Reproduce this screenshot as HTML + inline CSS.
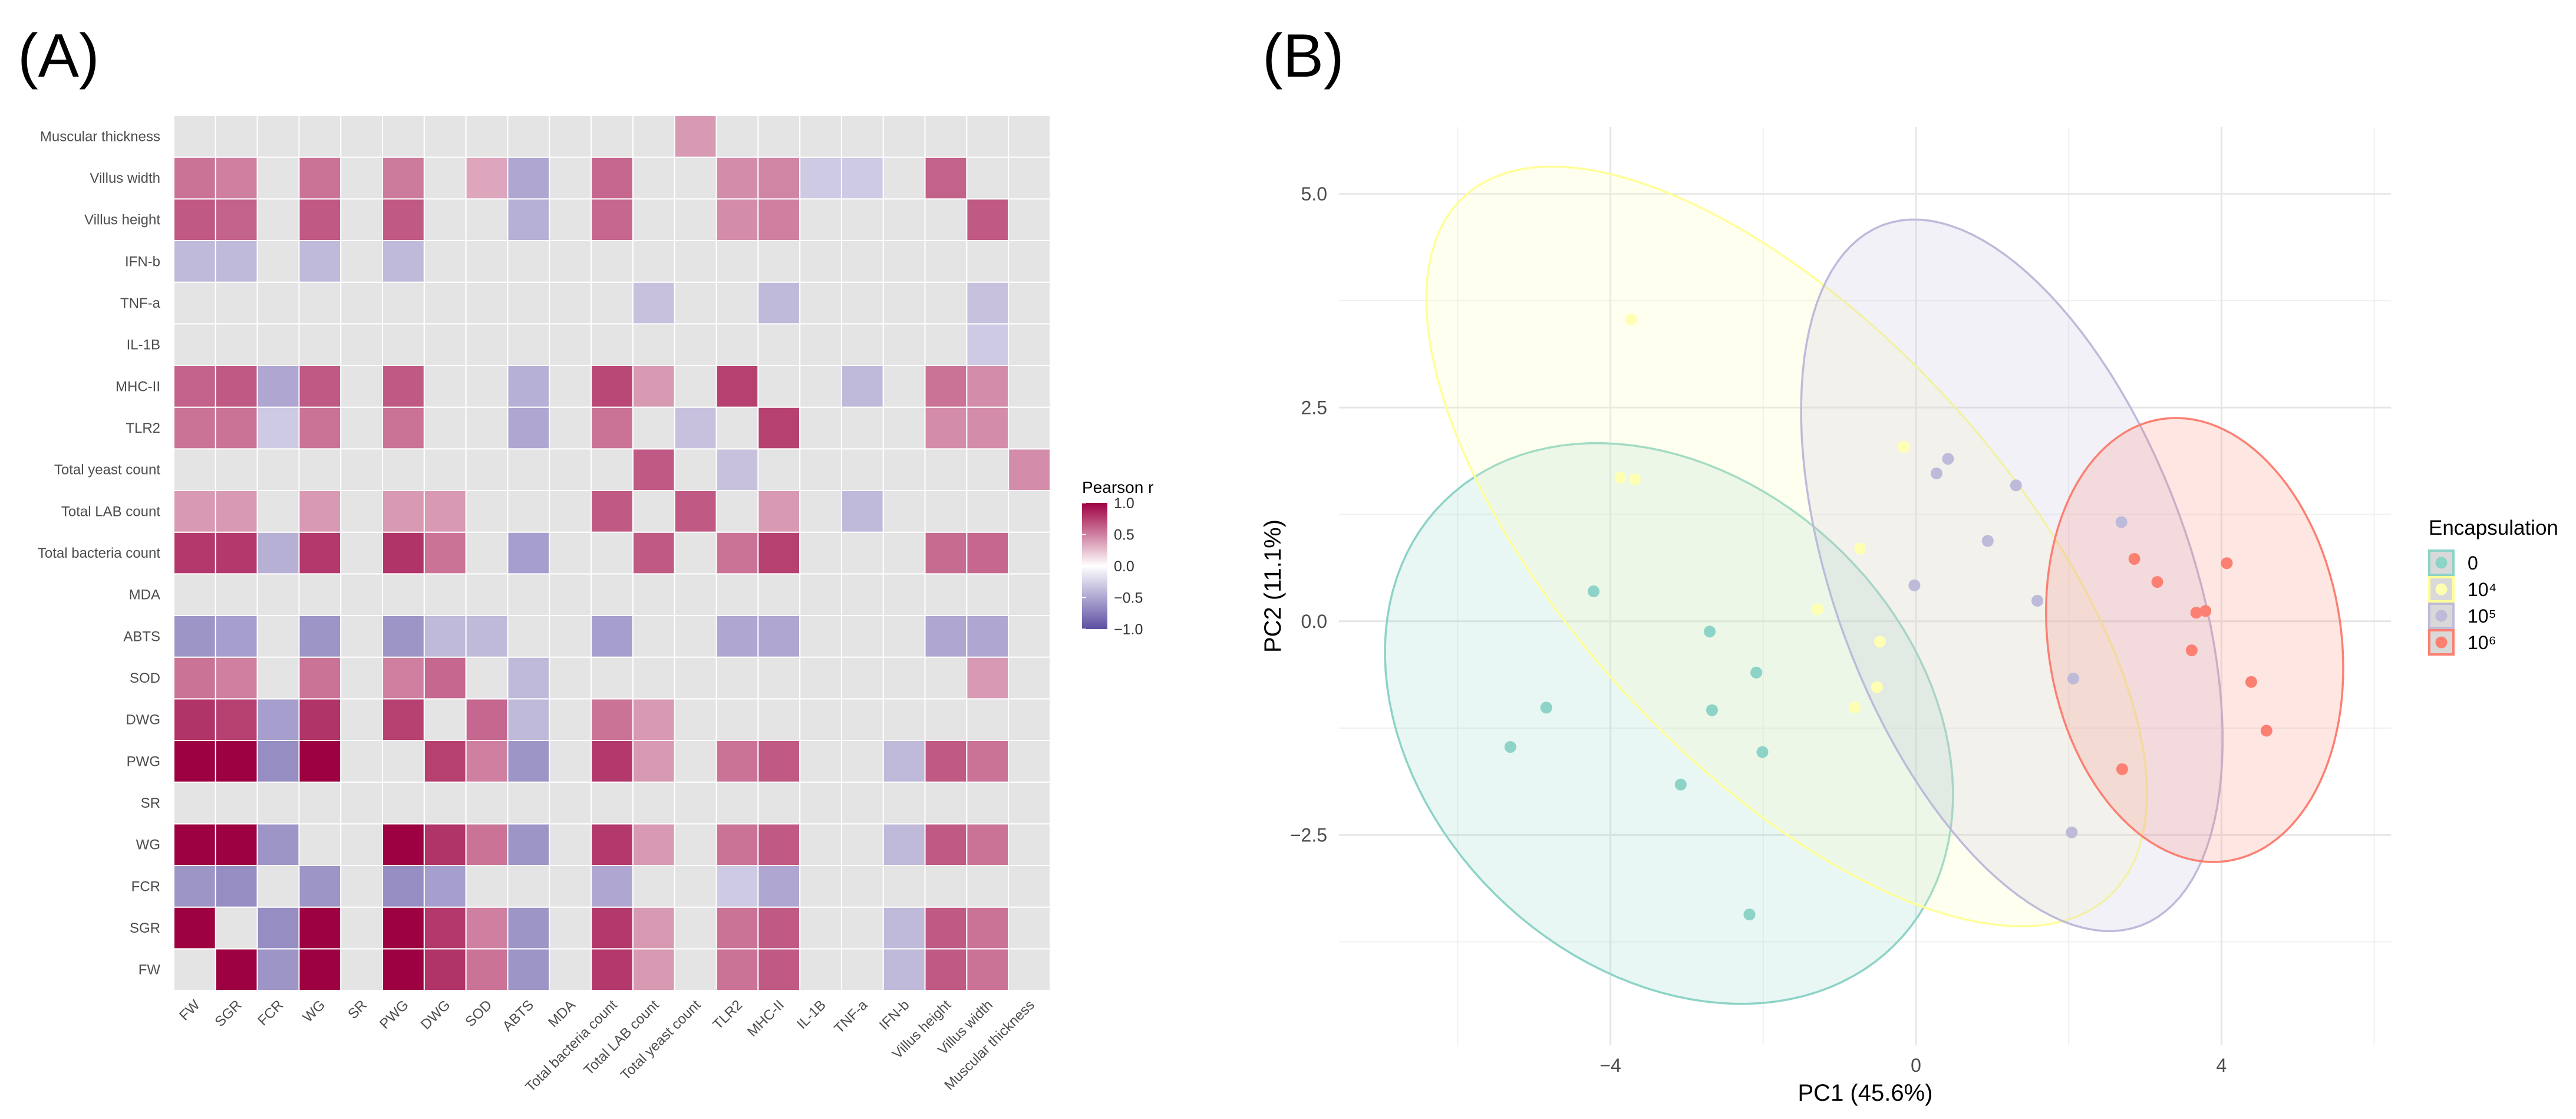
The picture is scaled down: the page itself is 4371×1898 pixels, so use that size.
<!DOCTYPE html>
<html><head><meta charset="utf-8"><style>
html,body{margin:0;padding:0;background:#fff;}
svg{display:block;font-family:"Liberation Sans",Arial,sans-serif;}
</style></head>
<body>
<svg id="fig" width="4371" height="1898" viewBox="0 0 4371 1898" xmlns="http://www.w3.org/2000/svg">
<rect x="0" y="0" width="4371" height="1898" fill="#fff"/>
<text x="30" y="130" font-size="104" fill="#000">(A)</text>
<text x="2142" y="130" font-size="104" fill="#000">(B)</text>
<g id="heat"></g>
<g id="cbar">
  <defs>
    <linearGradient id="cg" x1="0" y1="0" x2="0" y2="1">
      <stop offset="0" stop-color="#9E0142"/>
      <stop offset="0.5" stop-color="#ffffff"/>
      <stop offset="1" stop-color="#5E4FA2"/>
    </linearGradient>
  </defs>
  <text x="1836" y="836" font-size="28" fill="#000">Pearson r</text>
  <rect x="1836" y="853" width="43" height="214" fill="url(#cg)"/>
</g>
<g id="pca"></g>
</svg>
<script>
const NS='http://www.w3.org/2000/svg';
function mk(tag,attrs,parent){const e=document.createElementNS(NS,tag);for(const k in attrs)e.setAttribute(k,attrs[k]);if(parent)parent.appendChild(e);return e;}

/* ---------- Heatmap data ---------- */
const vars=["FW","SGR","FCR","WG","SR","PWG","DWG","SOD","ABTS","MDA","Total bacteria count","Total LAB count","Total yeast count","TLR2","MHC-II","IL-1B","TNF-a","IFN-b","Villus height","Villus width","Muscular thickness"];
const _=null;
const rFW  =[_,1,-0.6,1,_,1,0.8,0.55,-0.6,_,0.78,0.4,_,0.55,0.65,_,_,-0.4,0.65,0.55,_];
const rSGR =[1,_,-0.65,1,_,1,0.78,0.5,-0.6,_,0.78,0.4,_,0.55,0.65,_,_,-0.4,0.65,0.55,_];
const rFCR =[-0.6,-0.65,_,-0.6,_,-0.65,-0.55,_,_,_,-0.5,_,_,-0.3,-0.5,_,_,_,_,_,_];
const rWG  =[1,1,-0.6,_,_,1,0.8,0.55,-0.6,_,0.78,0.4,_,0.55,0.65,_,_,-0.4,0.65,0.55,_];
const rSR  =[_,_,_,_,_,_,_,_,_,_,_,_,_,_,_,_,_,_,_,_,_];
const rPWG =[1,1,-0.65,1,_,_,0.75,0.5,-0.6,_,0.78,0.4,_,0.55,0.65,_,_,-0.4,0.65,0.55,_];
const rDWG =[0.8,0.75,-0.55,0.8,_,0.75,_,0.6,-0.4,_,0.55,0.4,_,_,_,_,_,_,_,_,_];
const rSOD =[0.55,0.5,_,0.55,_,0.5,0.6,_,-0.4,_,_,_,_,_,_,_,_,_,_,0.4,_];
const rABTS=[-0.6,-0.55,_,-0.6,_,-0.6,-0.4,-0.4,_,_,-0.55,_,_,-0.5,-0.5,_,_,_,-0.5,-0.5,_];
const rMDA =[_,_,_,_,_,_,_,_,_,_,_,_,_,_,_,_,_,_,_,_,_];
const rTBC =[0.78,0.78,-0.45,0.78,_,0.8,0.55,_,-0.55,_,_,0.65,_,0.55,0.75,_,_,_,0.58,0.6,_];
const rLAB =[0.4,0.4,_,0.4,_,0.4,0.4,_,_,_,0.65,_,0.65,_,0.4,_,-0.4,_,_,_,_];
const rYST =[_,_,_,_,_,_,_,_,_,_,_,0.65,_,-0.35,_,_,_,_,_,_,0.45];
const rTLR2=[0.55,0.55,-0.3,0.55,_,0.55,_,_,-0.5,_,0.55,_,-0.35,_,0.75,_,_,_,0.45,0.45,_];
const rMHC =[0.62,0.65,-0.5,0.65,_,0.65,_,_,-0.45,_,0.72,0.4,_,0.75,_,_,-0.4,_,0.55,0.45,_];
const rIL1B=[_,_,_,_,_,_,_,_,_,_,_,_,_,_,_,_,_,_,_,-0.3,_];
const rTNFa=[_,_,_,_,_,_,_,_,_,_,_,-0.35,_,_,-0.4,_,_,_,_,-0.35,_];
const rIFNb=[-0.4,-0.4,_,-0.4,_,-0.4,_,_,_,_,_,_,_,_,_,_,_,_,_,_,_];
const rVH  =[0.65,0.62,_,0.65,_,0.65,_,_,-0.45,_,0.6,_,_,0.45,0.5,_,_,_,_,0.65,_];
const rVW  =[0.55,0.5,_,0.55,_,0.52,_,0.35,-0.5,_,0.6,_,_,0.45,0.48,-0.3,-0.3,_,0.62,_,_];
const rMT  =[_,_,_,_,_,_,_,_,_,_,_,_,0.4,_,_,_,_,_,_,_,_];
const matrix=[rFW,rSGR,rFCR,rWG,rSR,rPWG,rDWG,rSOD,rABTS,rMDA,rTBC,rLAB,rYST,rTLR2,rMHC,rIL1B,rTNFa,rIFNb,rVH,rVW,rMT];
const cbTicks=[1.0,0.5,0.0,-0.5,-1.0];
const cbLabels=["1.0","0.5","0.0","\u22120.5","\u22121.0"];

const HX0=295,HX1=1782,HY0=196,HY1=1680;
const n=vars.length, cw=(HX1-HX0)/n, ch=(HY1-HY0)/n;
const hx=i=>HX0+i*cw;
const hy=j=>HY1-(j+1)*ch; // j=0 bottom
function lerp(a,b,t){return Math.round(a+(b-a)*t);}
function rcol(v){
  if(v===null)return '#e4e4e4';
  const hi=[158,1,66],lo=[94,79,162],w=[255,255,255];
  const c=v>=0?hi:lo,t=Math.min(1,Math.abs(v));
  return 'rgb('+lerp(w[0],c[0],t)+','+lerp(w[1],c[1],t)+','+lerp(w[2],c[2],t)+')';
}
const heat=document.getElementById('heat');
for(let j=0;j<n;j++){
  for(let i=0;i<n;i++){
    const v=matrix[j][i];
    const r=mk('rect',{x:hx(i),y:hy(j),width:cw,height:ch,fill:rcol(v),stroke:'#fff','stroke-width':2},heat);
    
    
  }
}
for(let j=0;j<n;j++){
  const t=mk('text',{x:272,y:hy(j)+ch/2+8,'text-anchor':'end','font-size':24,fill:'#4d4d4d'},heat);
  t.textContent=vars[j];
  
  
}
for(let i=0;i<n;i++){
  const cx=hx(i)+cw/2+10, cy=1706;
  const t=mk('text',{x:cx,y:cy,'text-anchor':'end','font-size':24,fill:'#4d4d4d',transform:'rotate(-45 '+cx+' '+cy+')'},heat);
  t.textContent=vars[i];
  
  
}
const cbar=document.getElementById('cbar');
const cby=v=>853+(1-v)/2*214;
cbTicks.forEach((v,k)=>{
  const l1=mk('line',{x1:1836,x2:1843,y1:cby(v),y2:cby(v),stroke:'#fff','stroke-width':1.5},cbar);
  
  
  const t=mk('text',{x:1890,y:cby(v)+9,'font-size':25,fill:'#333'},cbar);
  t.textContent=cbLabels[k];
  
  
});

/* ---------- PCA data ---------- */
const groups=["0","10\u2074","10\u2075","10\u2076"];
const colors=["#8DD3C7","#FFFF99","#BEBADA","#FB8072"];
const fills=["#8DD3C7","#FFFFB3","#BEBADA","#FB8072"];
const pc1_g0=[-4.22,-2.70,-2.09,-4.84,-2.67,-5.31,-2.01,-3.08,-2.18];
const pc2_g0=[0.35,-0.12,-0.60,-1.01,-1.04,-1.47,-1.53,-1.91,-3.43];
const pc1_g1=[-3.73,-3.87,-3.68,-0.16,-0.73,-1.29,-0.47,-0.51,-0.80];
const pc2_g1=[3.53,1.68,1.66,2.04,0.85,0.14,-0.24,-0.77,-1.01];
const pc1_g2=[0.42,0.27,1.31,0.94,-0.02,1.59,2.06,2.04,2.69];
const pc2_g2=[1.90,1.73,1.59,0.94,0.42,0.24,-0.67,-2.47,1.16];
const pc1_g3=[2.86,3.16,4.07,3.67,3.79,3.61,4.39,4.59,2.70];
const pc2_g3=[0.73,0.46,0.68,0.10,0.12,-0.34,-0.71,-1.28,-1.73];
const PC1=[pc1_g0,pc1_g1,pc1_g2,pc1_g3];
const PC2=[pc2_g0,pc2_g1,pc2_g2,pc2_g3];
const xMajor=[-4,0,4], xMinor=[-6,-2,2,6];
const yMajor=[-2.5,0,2.5,5.0], yMinor=[-3.75,-1.25,1.25,3.75];
const xLabels=["\u22124","0","4"], yLabels=["\u22122.5","0.0","2.5","5.0"];

const PX0=2272,PX1=4057,PY0=215,PY1=1773;
const sx=v=>3251+v*129.6;
const sy=v=>1053.8-v*145;
const pca=document.getElementById('pca');
xMinor.forEach(v=>{const l=mk('line',{x1:sx(v),x2:sx(v),y1:PY0,y2:PY1,stroke:'#f0f0f0','stroke-width':2},pca);
  });
yMinor.forEach(v=>{const l=mk('line',{x1:PX0,x2:PX1,y1:sy(v),y2:sy(v),stroke:'#f0f0f0','stroke-width':2},pca);
  });
xMajor.forEach(v=>{const l=mk('line',{x1:sx(v),x2:sx(v),y1:PY0,y2:PY1,stroke:'#e6e6e6','stroke-width':3},pca);
  });
yMajor.forEach(v=>{const l=mk('line',{x1:PX0,x2:PX1,y1:sy(v),y2:sy(v),stroke:'#e6e6e6','stroke-width':3},pca);
  });

// 95% normal-theory ellipses computed from data
const FQ={8:4.459};
function ellipsePath(xs,ys){
  const m=xs.length, mx=xs.reduce((a,b)=>a+b)/m, my=ys.reduce((a,b)=>a+b)/m;
  let sxx=0,syy=0,sxy=0;
  for(let k=0;k<m;k++){const dx=xs[k]-mx,dy=ys[k]-my;sxx+=dx*dx;syy+=dy*dy;sxy+=dx*dy;}
  sxx/=(m-1);syy/=(m-1);sxy/=(m-1);
  const rad=Math.sqrt(2*(FQ[m-1]||4.46));
  const a=Math.sqrt(sxx), rho=sxy/Math.sqrt(sxx*syy), b=Math.sqrt(syy);
  let d='';
  for(let k=0;k<=120;k++){
    const t=k/120*2*Math.PI, ang=Math.acos(Math.max(-1,Math.min(1,rho)));
    const ex=mx+rad*a*Math.cos(t+ang/2), ey=my+rad*b*Math.cos(t-ang/2);
    d+=(k?'L':'M')+sx(ex).toFixed(1)+','+sy(ey).toFixed(1);
  }
  return d+'Z';
}
for(let g=0;g<4;g++){
  const p=mk('path',{d:ellipsePath(PC1[g],PC2[g]),fill:fills[g],'fill-opacity':0.2,stroke:colors[g],'stroke-width':3.5},pca);
  
  
}
for(let g=0;g<4;g++){
  PC1[g].forEach((v,k)=>{
    const c=mk('circle',{cx:sx(v),cy:sy(PC2[g][k]),r:10,fill:fills[g]},pca);
    
    
  });
}
xMajor.forEach((v,k)=>{const t=mk('text',{x:sx(v),y:1818,'text-anchor':'middle','font-size':32,fill:'#4d4d4d'},pca);
  t.textContent=xLabels[k];});
yMajor.forEach((v,k)=>{const t=mk('text',{x:2252,y:sy(v)+11,'text-anchor':'end','font-size':32,fill:'#4d4d4d'},pca);
  t.textContent=yLabels[k];});
{
  const t=mk('text',{x:3165,y:1867,'text-anchor':'middle','font-size':40,fill:'#000'},pca);
  t.textContent='PC1 (45.6%)';
  const t2=mk('text',{x:2173,y:994,'text-anchor':'middle','font-size':40,fill:'#000',transform:'rotate(-90 2173 994)'},pca);
  t2.textContent='PC2 (11.1%)';
  const lt=mk('text',{x:4121,y:907,'font-size':35,fill:'#000'},pca);
  lt.textContent='Encapsulation';
}
for(let g=0;g<4;g++){
  const y0=933+g*45;
  const kb=mk('rect',{x:4122,y:y0+1,width:41,height:41,fill:'#d9d9d9',stroke:colors[g],'stroke-width':4},pca);
  
  
  const kc=mk('circle',{cx:4142.5,cy:y0+21.5,r:10,fill:fills[g]},pca);
  
  
  const kt=mk('text',{x:4187,y:y0+33,'font-size':32,fill:'#000'},pca);
  kt.textContent=groups[g];
  
  
}
</script>
</body></html>
